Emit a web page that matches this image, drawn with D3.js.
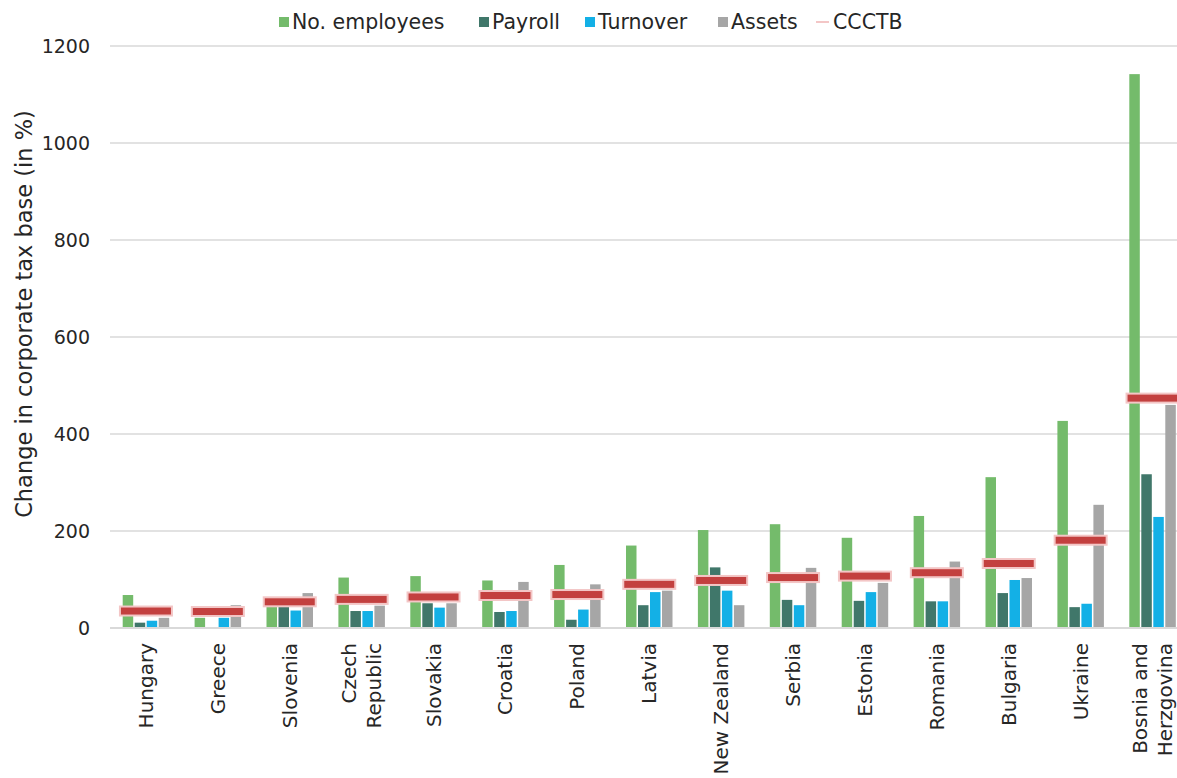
<!DOCTYPE html>
<html>
<head>
<meta charset="utf-8">
<script src="https://cdn.jsdelivr.net/npm/d3@7"></script>
<style>
  html, body { margin: 0; padding: 0; background: #fff; }
  svg { display: block; font-family: "DejaVu Sans", sans-serif; }
</style>
</head>
<body>
<svg id="chart" width="1177" height="778"></svg>
<script>
// ---- data ----
const categories = ["Hungary","Greece","Slovenia","Czech Republic","Slovakia","Croatia","Poland","Latvia","New Zealand","Serbia","Estonia","Romania","Bulgaria","Ukraine","Bosnia and Herzgovina"];
const categoryLines = [["Hungary"],["Greece"],["Slovenia"],["Czech","Republic"],["Slovakia"],["Croatia"],["Poland"],["Latvia"],["New Zealand"],["Serbia"],["Estonia"],["Romania"],["Bulgaria"],["Ukraine"],["Bosnia and","Herzgovina"]];
const employees = [68,21,48,104,107,98,130,170,202,214,186,231,311,427,1142];
const payroll   = [11,null,45,35,51,33,17,47,125,58,56,55,72,43,317];
const turnover  = [15,21,36,35,42,35,38,74,77,47,74,55,99,50,229];
const assets    = [21,47,72,46,51,95,90,77,47,124,93,137,103,254,460];
const ccctb     = [35,34,54,59,64,67,69,90,98,104,107,114,133,181,474];
const yTicks = [0,200,400,600,800,1000,1200];
const seriesNames = ["No. employees","Payroll","Turnover","Assets"];
const seriesColors = ["#74BB6B","#40776A","#13B0E6","#A6A6A6"];
const ccctbName = "CCCTB";
const yTitle = "Change in corporate tax base (in %)";

const seriesData = [employees, payroll, turnover, assets];

const svg = d3.select("#chart");
const W = 1177, H = 778;
const x0 = 110, band = 71.9;
const x = d3.scaleBand().domain(categories).range([x0, x0 + band * categories.length]).padding(0);
const y = d3.scaleLinear().domain([0, 1200]).range([628, 46]);

// gridlines
svg.append("g").selectAll("line").data(yTicks.filter(d => d > 0)).join("line")
  .attr("x1", x0).attr("x2", W).attr("y1", d => y(d)).attr("y2", d => y(d))
  .attr("stroke", "#d9d9d9").attr("stroke-width", 1.3);

// y axis labels
const yAxis = d3.axisLeft(y).tickValues(yTicks).tickFormat(d3.format("d")).tickSize(0).tickPadding(0);
const ya = svg.append("g").attr("transform", `translate(90,0)`).call(yAxis);
ya.select(".domain").remove();
ya.selectAll("text").attr("font-size", "19px").attr("fill", "#262626").attr("font-family", "DejaVu Sans");

// y title
svg.append("text")
  .attr("transform", `translate(24,314) rotate(-90)`)
  .attr("text-anchor", "middle").attr("dominant-baseline", "central")
  .attr("font-size", "22.5px").attr("fill", "#262626").text(yTitle);

// bars
const barW = 10.5, step = 12;
seriesData.forEach((vals, si) => {
  svg.append("g").selectAll("rect")
    .data(categories.map((c, i) => ({c, v: vals[i]})).filter(d => d.v != null))
    .join("rect")
    .attr("x", d => x(d.c) + x.bandwidth()/2 + (si - 1.5) * step - barW/2)
    .attr("width", barW)
    .attr("y", d => y(d.v))
    .attr("height", d => y(0) - y(d.v))
    .attr("fill", seriesColors[si]);
});

// baseline
svg.append("line").attr("x1", x0).attr("x2", W).attr("y1", y(0)).attr("y2", y(0))
  .attr("stroke", "#d9d9d9").attr("stroke-width", 2);

// CCCTB markers
const mW = 52, mH = 9;
svg.append("g").selectAll("rect")
  .data(categories.map((c, i) => ({c, v: ccctb[i]})))
  .join("rect")
  .attr("x", d => x(d.c) + x.bandwidth()/2 - mW/2)
  .attr("y", d => y(d.v) - mH/2)
  .attr("width", mW).attr("height", mH)
  .attr("fill", "#C3403F").attr("stroke", "#F3C6C6").attr("stroke-width", 2);

// x labels
const lab = svg.append("g");
categories.forEach((c, i) => {
  const lines = categoryLines[i];
  const cx = x(c) + x.bandwidth()/2;
  lines.forEach((ln, li) => {
    const off = (li - (lines.length - 1) / 2) * 24.5;
    lab.append("text")
      .attr("transform", `translate(${cx + off},643) rotate(-90)`)
      .attr("text-anchor", "end").attr("dominant-baseline", "central")
      .attr("font-size", "20px").attr("fill", "#262626").text(ln);
  });
});

// legend
const legX = [279, 479, 585, 718];
const lg = svg.append("g");
seriesNames.forEach((n, i) => {
  lg.append("rect").attr("x", legX[i]).attr("y", 17).attr("width", 10).attr("height", 10).attr("fill", seriesColors[i]);
  lg.append("text").attr("x", legX[i] + 13).attr("y", 22).attr("dominant-baseline", "central")
    .attr("font-size", "20.5px").attr("fill", "#262626").text(n);
});
lg.append("line").attr("x1", 816).attr("x2", 829).attr("y1", 22).attr("y2", 22)
  .attr("stroke", "#F3C6C6").attr("stroke-width", 2);
lg.append("text").attr("x", 833).attr("y", 22).attr("dominant-baseline", "central")
  .attr("font-size", "20.5px").attr("fill", "#262626").text(ccctbName);
</script>
</body>
</html>
